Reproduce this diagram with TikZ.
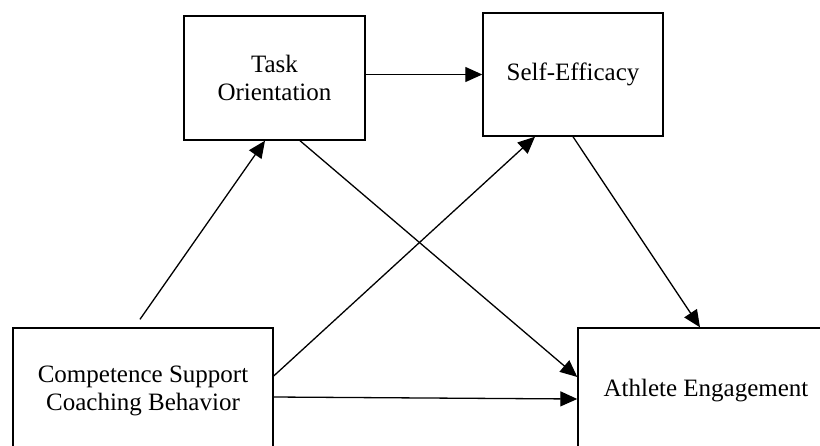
\documentclass[tikz,border=0pt]{standalone}
\usepackage{fontspec}
\setmainfont{Liberation Serif}
\usetikzlibrary{arrows.meta,positioning}
\tikzset{varbox/.style={draw,line width=1.4pt,align=center,inner sep=0pt,font=\fontsize{25}{28}\selectfont}}

\begin{document}
\begin{tikzpicture}[>={Triangle[length=17pt,width=15pt]},x=1pt,y=-1pt,line width=1.3pt]
\path[use as bounding box,clip] (0,0) rectangle (820,445);

\node[varbox,minimum width=181pt,minimum height=124pt] (task) at (274.5,78) {Task\\Orientation};
\node[varbox,minimum width=180pt,minimum height=123pt] (se) at (573,74.5) {Self-Efficacy};
\node[varbox,minimum width=260pt,minimum height=126pt] (comp) at (143,391) {Competence Support\\Coaching Behavior};
\node[varbox,minimum width=256pt,minimum height=126pt] (ath) at (706,391) {Athlete Engagement};

\draw[->,shorten <=9.7pt] ([xshift=-8.6pt]comp.north) -- ([xshift=-9.5pt]task.south);
\draw[->] (task.east |- se.west) -- (se.west);
\draw[->] ([xshift=25.5pt]task.south) -- ([yshift=14pt]ath.west);
\draw[->] ([yshift=15pt]comp.east) -- ([xshift=-38pt]se.south);
\draw[->] (se.south) -- ([xshift=-6pt]ath.north);
\draw[->] ([yshift=-6pt]comp.east) -- ([yshift=-8pt]ath.west);
\end{tikzpicture}
\end{document}
